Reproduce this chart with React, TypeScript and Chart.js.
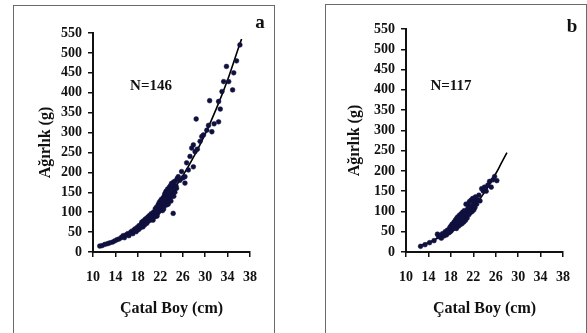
import React, { useEffect, useRef } from 'react';
import { Chart, registerables } from 'chart.js';

Chart.register(...registerables);

// ---------- data ----------
const xTickValues = [10, 14, 18, 22, 26, 30, 34, 38];
const yTickValues = [0, 50, 100, 150, 200, 250, 300, 350, 400, 450, 500, 550];

const xTitle = 'Çatal Boy (cm)';
const yTitle = 'Ağırlık (g)';
const panelLetters = ['a', 'b'];
const sampleLabels = ['N=146', 'N=117'];

// Panel a: fork length (cm) / weight (g)
const lenA = [
  11.2, 11.6, 12.1, 12.6, 13.0, 13.5, 13.9, 14.3, 14.7, 15.1,
  15.4, 15.6, 15.9, 16.2, 16.4, 16.7, 16.9, 17.1, 17.3, 17.5,
  17.7, 17.9, 18.1, 18.2, 18.4, 18.6, 18.7, 18.9, 19.0, 19.2,
  19.3, 19.5, 19.6, 19.8, 19.9, 20.1, 20.2, 20.4, 20.5, 20.7,
  20.8, 21.0, 21.1, 21.2, 21.3, 21.5, 21.6, 21.7, 21.8, 21.9,
  22.0, 22.1, 22.2, 22.2, 22.3, 22.4, 22.5, 22.5, 22.6, 22.7,
  22.8, 22.8, 22.9, 23.0, 23.0, 23.1, 23.2, 23.3, 23.3, 23.4,
  23.5, 23.6, 23.6, 23.7, 23.8, 23.9, 24.0, 24.0, 24.1, 24.2,
  24.3, 24.3, 24.4, 24.5, 24.6, 24.7, 24.8, 25.0, 25.2, 25.5,
  25.8, 26.0, 26.4, 26.4, 26.7, 27.0, 27.3, 27.6, 27.9, 27.9,
  28.2, 28.4, 28.6, 29.1, 29.4, 29.7, 30.3, 30.6, 30.8, 31.2,
  31.6, 32.4, 32.4, 32.7, 33.0, 33.3, 33.8, 34.2, 34.9, 35.1,
  35.6, 36.2, 22.6, 23.4, 23.9, 22.9, 21.4, 24.4, 23.1, 24.9,
];
const wtA = [
  15, 16, 19, 21, 23, 25, 28, 31, 33, 37,
  41, 36, 43, 46, 41, 49, 52, 46, 55, 58,
  51, 62, 56, 66, 60, 70, 75, 63, 78, 68,
  82, 84, 72, 88, 78, 92, 80, 96, 86, 80,
  100, 88, 108, 94, 112, 96, 118, 101, 124, 104,
  128, 106, 132, 112, 122, 104, 136, 114, 126, 140,
  118, 146, 122, 132, 152, 118, 142, 126, 158, 136,
  150, 162, 128, 144, 166, 138, 158, 172, 146, 168,
  152, 97, 176, 160, 150, 178, 166, 184, 189, 180,
  202, 186, 189, 173, 224, 206, 240, 261, 214, 269,
  252, 334, 258, 278, 290, 294, 306, 318, 380, 302,
  322, 327, 378, 359, 403, 428, 466, 428, 407, 450,
  480, 520, 108, 120, 128, 134, 90, 140, 148, 160,
];
const fitLenA = [11, 12, 14, 16, 18, 20, 22, 24, 26, 28, 30, 32, 34, 36, 36.5];
const fitWtA = [14, 18, 29, 44, 63, 86, 115, 150, 191, 240, 296, 360, 432, 515, 535];

// Panel b
const lenB = [
  12.6, 13.4, 14.2, 15.0, 15.6, 15.8, 16.0, 16.3, 16.5, 16.8,
  17.0, 17.2, 17.4, 17.6, 17.8, 17.9, 18.0, 18.1, 18.2, 18.3,
  18.4, 18.5, 18.6, 18.7, 18.8, 18.9, 19.0, 19.0, 19.1, 19.2,
  19.3, 19.4, 19.5, 19.6, 19.7, 19.8, 19.9, 20.0, 20.1, 20.2,
  20.3, 20.4, 20.5, 20.6, 20.7, 20.8, 20.9, 21.0, 21.1, 21.2,
  21.3, 21.4, 21.5, 21.6, 21.7, 21.8, 21.9, 22.0, 22.1, 22.2,
  22.3, 22.4, 22.6, 22.8, 23.0, 23.2, 23.5, 23.8, 24.0, 24.3,
  24.6, 24.9, 25.2, 25.5, 25.8, 26.2, 19.4, 20.6, 21.4, 17.5,
];
const wtB = [
  14, 18, 23, 28, 44, 38, 41, 34, 45, 40,
  50, 42, 54, 47, 60, 50, 64, 53, 68, 57,
  70, 58, 74, 62, 78, 64, 58, 82, 68, 86,
  72, 64, 90, 76, 68, 94, 80, 70, 98, 84,
  74, 102, 88, 78, 118, 96, 84, 106, 116, 92,
  124, 108, 98, 128, 112, 100, 132, 118, 104, 126,
  110, 136, 118, 128, 140, 126, 156, 150, 160, 150,
  165, 174, 160, 178, 186, 176, 84, 92, 96, 48,
];
const fitLenB = [12.3, 12.5, 14, 16, 18, 20, 22, 24, 26, 27, 28];
const fitWtB = [15, 16, 23, 37, 55, 79, 109, 147, 193, 219, 245];

// ---------- rendering ----------
const FONT = "'Times New Roman', 'Liberation Serif', serif";
const INK = '#111111';
const DOT = '#10103e';

type PanelProps = {
  left: number;
  top: number;
  width: number;
  height: number;
  area: { left: number; top: number; right: number; bottom: number };
  yTitleX: number;
  xTitleY: number;
  letter: string;
  letterPos: [number, number];
  nLabel: string;
  nPos: [number, number];
  xs: number[];
  ys: number[];
  fx: number[];
  fy: number[];
};

function Panel(p: PanelProps) {
  const ref = useRef<HTMLCanvasElement | null>(null);
  useEffect(() => {
    const canvas = ref.current;
    if (!canvas) return;
    const titleLH = 16 * 1.2;
    const annot = {
      id: 'annot',
      afterDraw(chart: any) {
        const ctx = chart.ctx;
        ctx.save();
        ctx.fillStyle = INK;
        ctx.textAlign = 'center';
        ctx.textBaseline = 'alphabetic';
        ctx.font = `bold 19px ${FONT}`;
        ctx.fillText(p.letter, p.letterPos[0], p.letterPos[1]);
        ctx.font = `bold 15px ${FONT}`;
        ctx.fillText(p.nLabel, p.nPos[0], p.nPos[1]);
        ctx.restore();
      },
    };
    const chart = new Chart(canvas, {
      type: 'scatter',
      data: {
        datasets: [
          {
            data: p.xs.map((x, i) => ({ x, y: p.ys[i] })),
            pointRadius: 2.4,
            pointBackgroundColor: DOT,
            pointBorderColor: DOT,
            pointBorderWidth: 0.5,
            showLine: false,
          },
          {
            data: p.fx.map((x, i) => ({ x, y: p.fy[i] })),
            showLine: true,
            pointRadius: 0,
            borderColor: '#000',
            borderWidth: 1.6,
            tension: 0.4,
            cubicInterpolationMode: 'monotone',
          },
        ],
      },
      options: {
        animation: false,
        responsive: false,
        maintainAspectRatio: false,
        devicePixelRatio: 1,
        layout: {
          padding: {
            left: 0,
            top: p.area.top,
            right: p.width - p.area.right,
            bottom: 0,
          },
        },
        plugins: {
          legend: { display: false },
          tooltip: { enabled: false },
          title: { display: false },
        },
        scales: {
          x: {
            type: 'linear',
            min: 10,
            max: 38,
            afterFit: (s: any) => {
              s.height = p.height - p.area.bottom;
            },
            afterBuildTicks: (s: any) => {
              s.ticks = xTickValues.map((v) => ({ value: v }));
            },
            ticks: {
              color: INK,
              padding: 12,
              maxRotation: 0,
              autoSkip: false,
              font: { family: FONT, size: 14, weight: 'bold' },
            },
            grid: {
              display: true,
              drawOnChartArea: false,
              drawTicks: true,
              tickLength: 5,
              color: INK,
              lineWidth: 1.5,
            },
            border: { display: true, color: INK, width: 2 },
            title: {
              display: true,
              text: xTitle,
              color: INK,
              font: { family: FONT, size: 16, weight: 'bold' },
              padding: { top: 0, bottom: p.height - p.xTitleY - titleLH / 2 },
            },
          },
          y: {
            type: 'linear',
            min: 0,
            max: 550,
            afterFit: (s: any) => {
              s.width = p.area.left;
            },
            afterBuildTicks: (s: any) => {
              s.ticks = yTickValues.map((v) => ({ value: v }));
            },
            ticks: {
              color: INK,
              padding: 6,
              autoSkip: false,
              font: { family: FONT, size: 14, weight: 'bold' },
            },
            grid: {
              display: true,
              drawOnChartArea: false,
              drawTicks: true,
              tickLength: 5,
              color: INK,
              lineWidth: 1.5,
            },
            border: { display: true, color: INK, width: 2 },
            title: {
              display: true,
              text: yTitle,
              color: INK,
              font: { family: FONT, size: 16, weight: 'bold' },
              padding: { top: p.yTitleX - titleLH / 2, bottom: 0 },
            },
          },
        },
      },
      plugins: [annot],
    } as any);
    return () => chart.destroy();
  }, []);
  return (
    <>
      <div
        style={{
          position: 'absolute',
          left: p.left,
          top: p.top,
          width: p.width,
          height: p.height + 10,
          border: '1.5px solid #6a6a6a',
          boxSizing: 'border-box',
          background: '#fff',
        }}
      />
      <canvas
        ref={ref}
        width={p.width}
        height={p.height}
        style={{ position: 'absolute', left: p.left, top: p.top, width: p.width, height: p.height }}
      />
    </>
  );
}

export default function App() {
  return (
    <div
      style={{
        position: 'fixed',
        left: 0,
        top: 0,
        width: 587,
        height: 333,
        background: '#fff',
        overflow: 'hidden',
      }}
    >
      <Panel
        left={13}
        top={5}
        width={262}
        height={328}
        area={{ left: 80, top: 28, right: 237, bottom: 247 }}
        yTitleX={33}
        xTitleY={304}
        letter={panelLetters[0]}
        letterPos={[247, 23]}
        nLabel={sampleLabels[0]}
        nPos={[138, 85]}
        xs={lenA}
        ys={wtA}
        fx={fitLenA}
        fy={fitWtA}
      />
      <Panel
        left={325}
        top={4}
        width={262}
        height={329}
        area={{ left: 81, top: 25, right: 238, bottom: 248 }}
        yTitleX={30}
        xTitleY={305}
        letter={panelLetters[1]}
        letterPos={[247, 28]}
        nLabel={sampleLabels[1]}
        nPos={[126, 86]}
        xs={lenB}
        ys={wtB}
        fx={fitLenB}
        fy={fitWtB}
      />
    </div>
  );
}
